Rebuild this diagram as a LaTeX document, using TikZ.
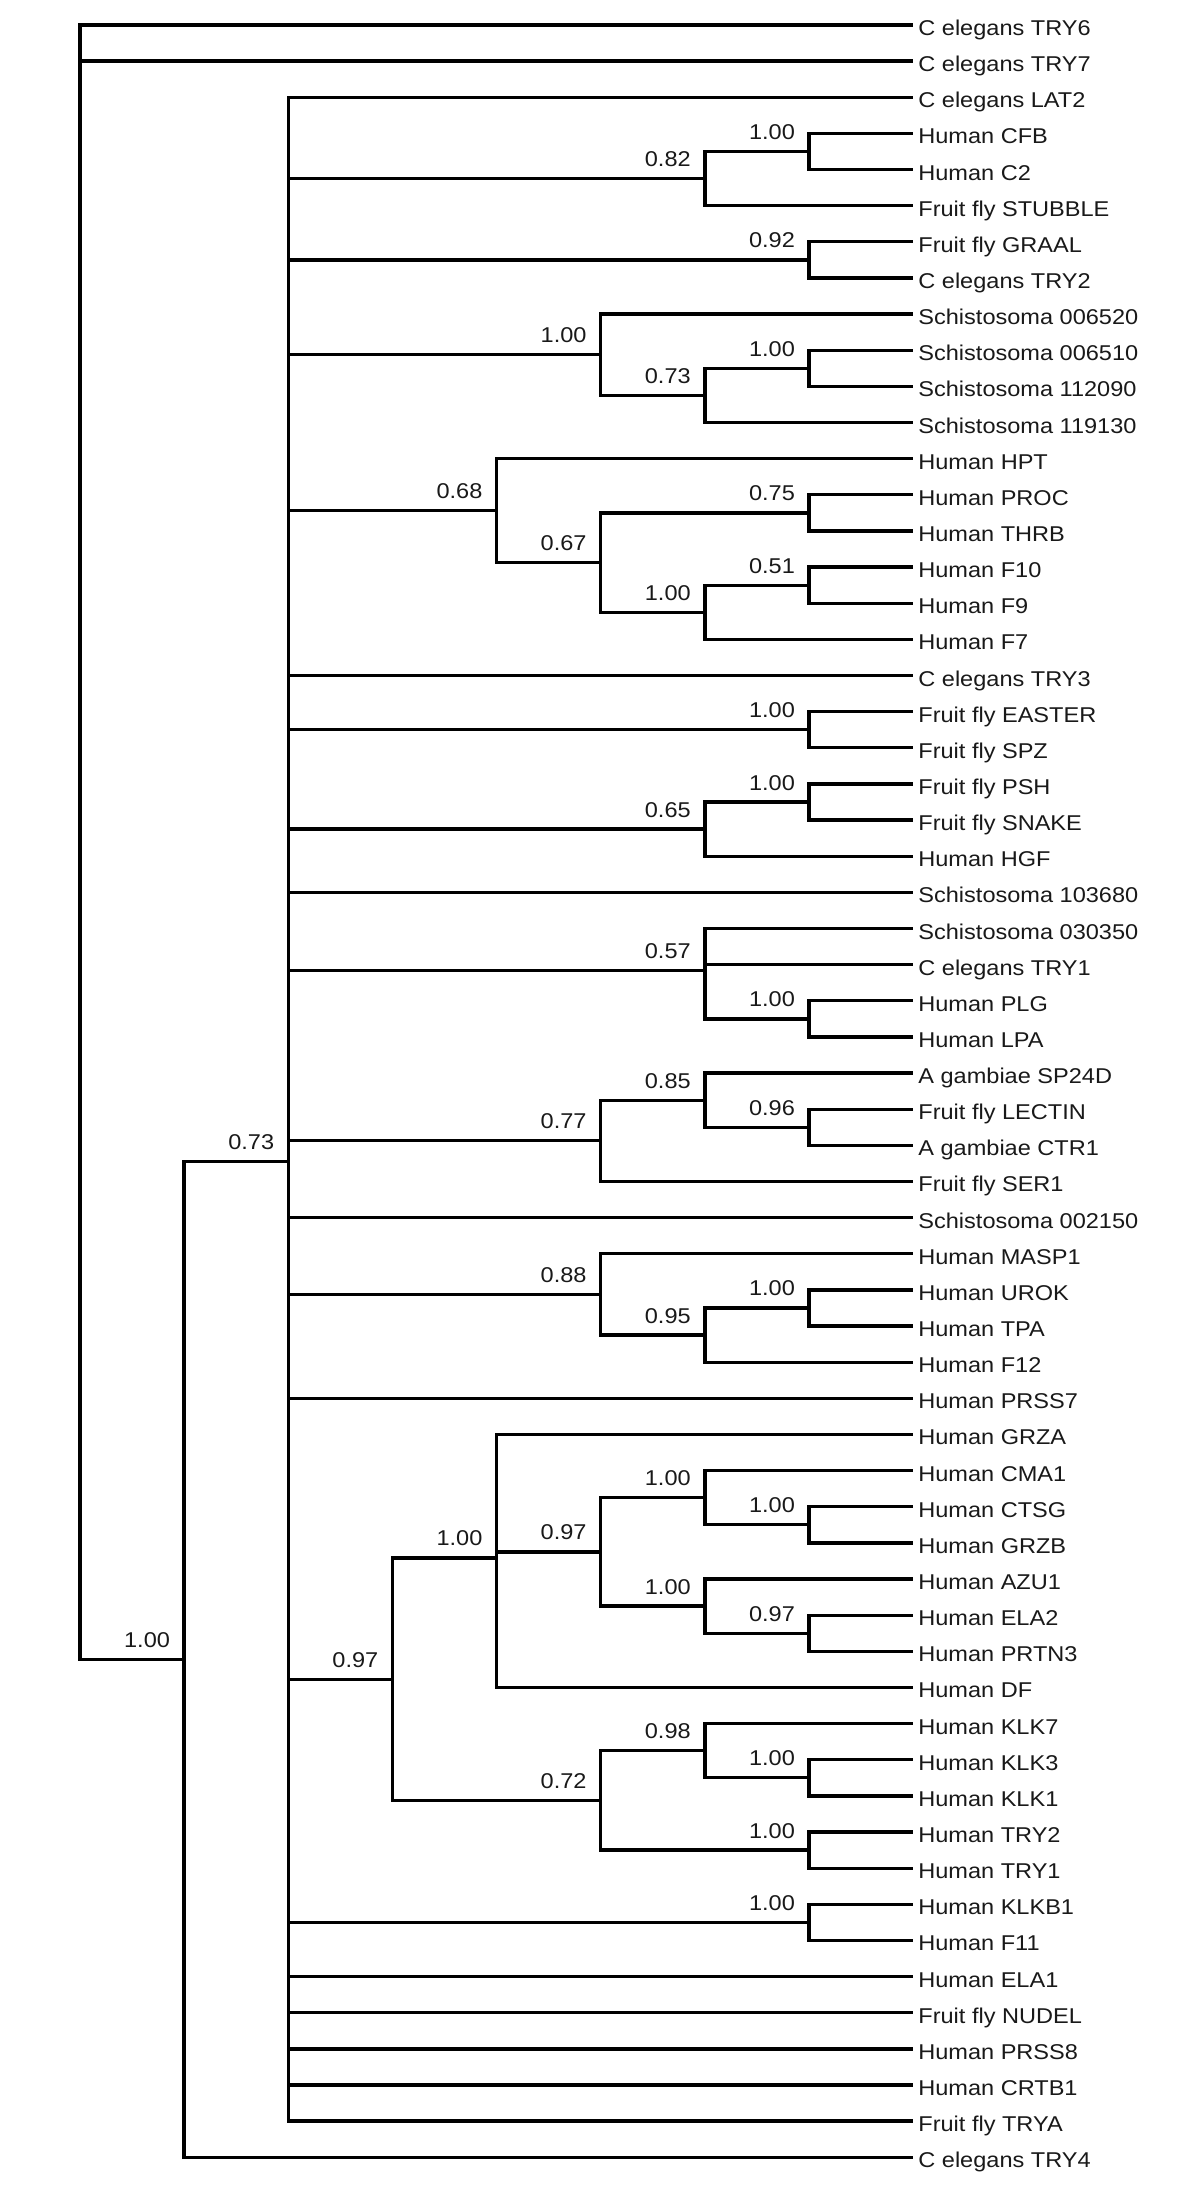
\documentclass[tikz,border=0pt]{standalone}
\usepackage{fontspec}
\setmainfont{Liberation Sans}[FakeStretch=1.1]
\newcommand{\treefont}{\fontsize{21.4}{24}\selectfont}
\tikzset{
  branch/.style={line width=3.3pt, line join=miter},
  leaf/.style={anchor=west, inner xsep=5pt, inner ysep=0pt,
    text height=21pt, text depth=0pt, font=\treefont, text=black!90},
  bs/.style={anchor=base east, inner sep=0pt, xshift=-14pt, yshift=12pt,
    font=\treefont, text=black!90}
}
\begin{document}
\begin{tikzpicture}[x=104.15pt, y=-36.14pt]
  \fill[white] (-0.7681,0.3082) rectangle (10.7537,61.3210);
  % leaves, one per row
  \foreach \id/\txt [count=\r] in {
    TRY6/C elegans TRY6, TRY7/C elegans TRY7, LAT2/C elegans LAT2,
    CFB/Human CFB, C2/Human C2, STUBBLE/Fruit fly STUBBLE,
    GRAAL/Fruit fly GRAAL, ceTRY2/C elegans TRY2,
    s006520/Schistosoma 006520, s006510/Schistosoma 006510,
    s112090/Schistosoma 112090, s119130/Schistosoma 119130,
    HPT/Human HPT, PROC/Human PROC, THRB/Human THRB,
    F10/Human F10, F9/Human F9, F7/Human F7, TRY3/C elegans TRY3,
    EASTER/Fruit fly EASTER, SPZ/Fruit fly SPZ, PSH/Fruit fly PSH,
    SNAKE/Fruit fly SNAKE, HGF/Human HGF, s103680/Schistosoma 103680,
    s030350/Schistosoma 030350, ceTRY1/C elegans TRY1,
    PLG/Human PLG, LPA/Human LPA, SP24D/A gambiae SP24D,
    LECTIN/Fruit fly LECTIN, CTR1/A gambiae CTR1, SER1/Fruit fly SER1,
    s002150/Schistosoma 002150, MASP1/Human MASP1, UROK/Human UROK,
    TPA/Human TPA, F12/Human F12, PRSS7/Human PRSS7, GRZA/Human GRZA,
    CMA1/Human CMA1, CTSG/Human CTSG, GRZB/Human GRZB, AZU1/Human AZU1,
    ELA2/Human ELA2, PRTN3/Human PRTN3, DF/Human DF, KLK7/Human KLK7,
    KLK3/Human KLK3, KLK1/Human KLK1, hTRY2/Human TRY2, hTRY1/Human TRY1,
    KLKB1/Human KLKB1, F11/Human F11, ELA1/Human ELA1,
    NUDEL/Fruit fly NUDEL, PRSS8/Human PRSS8, CRTB1/Human CRTB1,
    TRYA/Fruit fly TRYA, TRY4/C elegans TRY4}
    \node[leaf] (\id) at (8,\r) {\txt};
  % inner nodes (x = depth, y = mean of children)
  \coordinate (root) at (0,16.409);
  \coordinate (ingroup) at (1,46.226);
  \coordinate (core) at (2,32.452);
  \coordinate (nCFB) at (7,4.5);
  \coordinate (nSTU) at (6,5.25);
  \coordinate (nGRA) at (7,7.5);
  \coordinate (nS10) at (7,10.5);
  \coordinate (nS12) at (6,11.25);
  \coordinate (nSCH) at (5,10.125);
  \coordinate (nPRO) at (7,14.5);
  \coordinate (nF10) at (7,16.5);
  \coordinate (nF9) at (6,17.25);
  \coordinate (nCOA) at (5,15.875);
  \coordinate (nHPT) at (4,14.4375);
  \coordinate (nEAS) at (7,20.5);
  \coordinate (nPSH) at (7,22.5);
  \coordinate (nHGF) at (6,23.25);
  \coordinate (nPLG) at (7,28.5);
  \coordinate (nS03) at (6,27.1667);
  \coordinate (nLEC) at (7,31.5);
  \coordinate (nSP2) at (6,30.75);
  \coordinate (nSER) at (5,31.875);
  \coordinate (nURO) at (7,36.5);
  \coordinate (nF12) at (6,37.25);
  \coordinate (nMAS) at (5,36.125);
  \coordinate (nCTS) at (7,42.5);
  \coordinate (nCMA) at (6,41.75);
  \coordinate (nPRT) at (7,45.5);
  \coordinate (nAZU) at (6,44.75);
  \coordinate (nGRN) at (5,43.25);
  \coordinate (nGRZ) at (4,43.4167);
  \coordinate (nKL3) at (7,49.5);
  \coordinate (nKL7) at (6,48.75);
  \coordinate (nTRY) at (7,51.5);
  \coordinate (nKLK) at (5,50.125);
  \coordinate (nCHY) at (3,46.7708);
  \coordinate (nKLB) at (7,53.5);
  % branches
  \foreach \p/\kids in {
    root/{TRY6.west,TRY7.west,ingroup},
    ingroup/{core,TRY4.west},
    core/{LAT2.west,nSTU,nGRA,nSCH,nHPT,TRY3.west,nEAS,nHGF,s103680.west,
      nS03,nSER,s002150.west,nMAS,PRSS7.west,nCHY,nKLB,ELA1.west,
      NUDEL.west,PRSS8.west,CRTB1.west,TRYA.west},
    nSTU/{nCFB,STUBBLE.west}, nCFB/{CFB.west,C2.west},
    nGRA/{GRAAL.west,ceTRY2.west},
    nSCH/{s006520.west,nS12}, nS12/{nS10,s119130.west},
    nS10/{s006510.west,s112090.west},
    nHPT/{HPT.west,nCOA}, nCOA/{nPRO,nF9}, nPRO/{PROC.west,THRB.west},
    nF9/{nF10,F7.west}, nF10/{F10.west,F9.west},
    nEAS/{EASTER.west,SPZ.west},
    nHGF/{nPSH,HGF.west}, nPSH/{PSH.west,SNAKE.west},
    nS03/{s030350.west,ceTRY1.west,nPLG}, nPLG/{PLG.west,LPA.west},
    nSER/{nSP2,SER1.west}, nSP2/{SP24D.west,nLEC},
    nLEC/{LECTIN.west,CTR1.west},
    nMAS/{MASP1.west,nF12}, nF12/{nURO,F12.west},
    nURO/{UROK.west,TPA.west},
    nCHY/{nGRZ,nKLK}, nGRZ/{GRZA.west,nGRN,DF.west}, nGRN/{nCMA,nAZU},
    nCMA/{CMA1.west,nCTS}, nCTS/{CTSG.west,GRZB.west},
    nAZU/{AZU1.west,nPRT}, nPRT/{ELA2.west,PRTN3.west},
    nKLK/{nKL7,nTRY}, nKL7/{KLK7.west,nKL3}, nKL3/{KLK3.west,KLK1.west},
    nTRY/{hTRY2.west,hTRY1.west},
    nKLB/{KLKB1.west,F11.west}}
    \foreach \k in \kids
      \draw[branch] (\p) |- (\k);
  % support values
  \foreach \p/\v in {ingroup/1.00, core/0.73, nSTU/0.82, nCFB/1.00,
    nGRA/0.92, nSCH/1.00, nS12/0.73, nS10/1.00, nHPT/0.68, nCOA/0.67,
    nPRO/0.75, nF9/1.00, nF10/0.51, nEAS/1.00, nHGF/0.65, nPSH/1.00,
    nS03/0.57, nPLG/1.00, nSER/0.77, nSP2/0.85, nLEC/0.96, nMAS/0.88,
    nF12/0.95, nURO/1.00, nCHY/0.97, nGRZ/1.00, nGRN/0.97, nCMA/1.00,
    nCTS/1.00, nAZU/1.00, nPRT/0.97, nKLK/0.72, nKL7/0.98, nKL3/1.00,
    nTRY/1.00, nKLB/1.00}
    \node[bs] (b\p) at (\p) {\v};
\end{tikzpicture}
\end{document}
